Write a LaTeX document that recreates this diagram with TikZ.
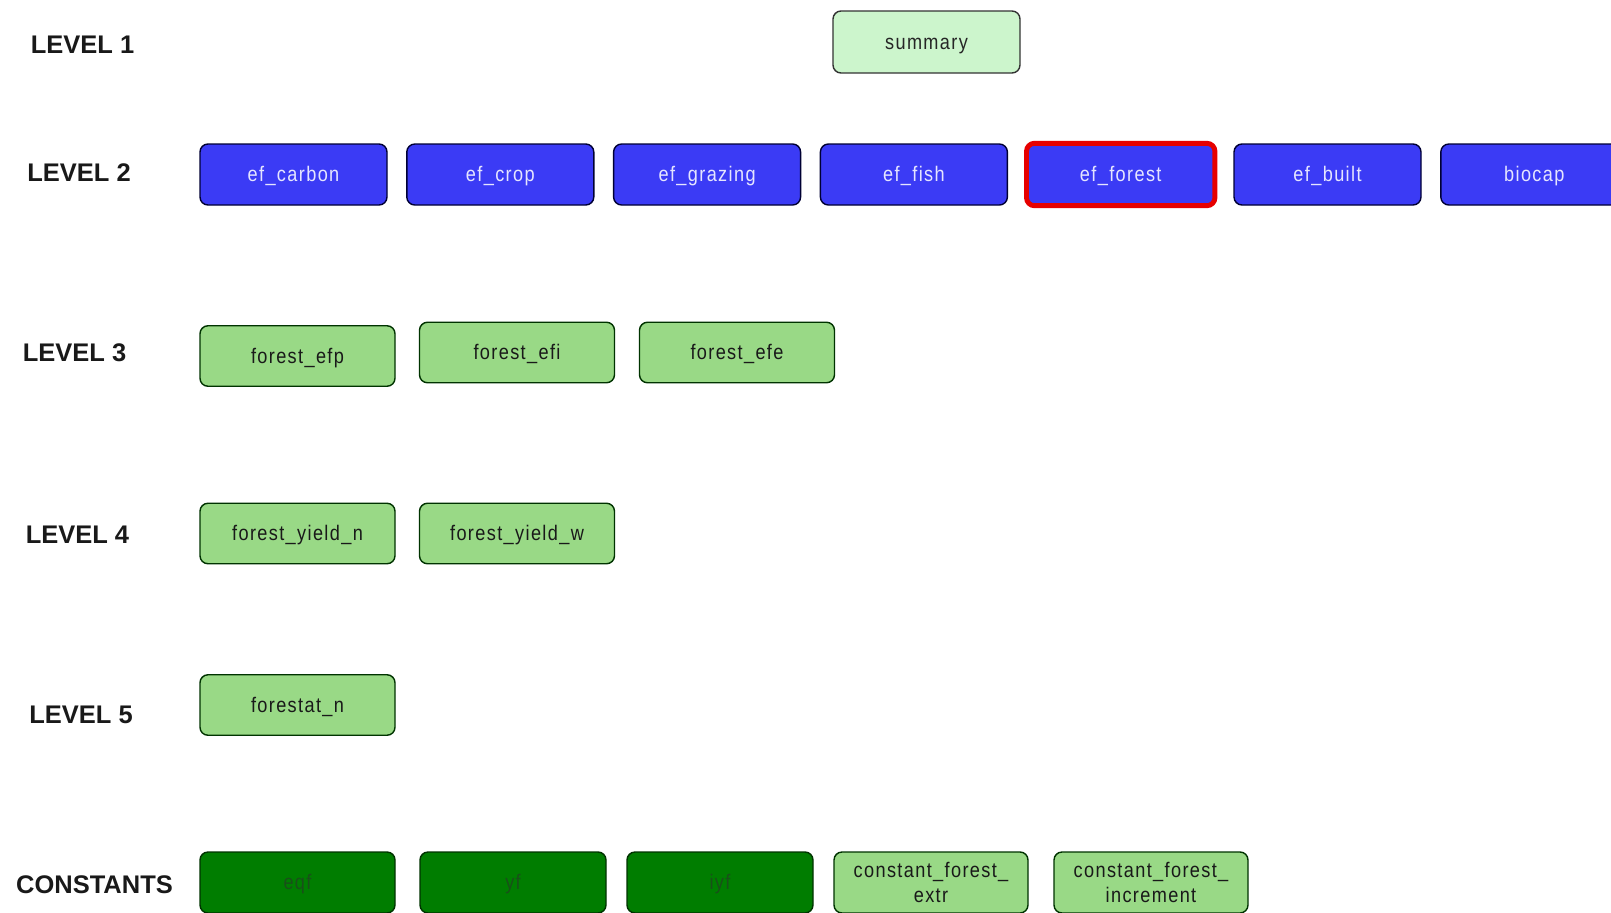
\documentclass[tikz,border=0pt]{standalone}
\usepackage{fontspec}
\setmainfont{Liberation Sans}
\newfontfamily\boxfont[FakeStretch=0.86, LetterSpace=6.5]{Liberation Sans}
\usepackage{xcolor}
\usepackage{tikz}
\usetikzlibrary{positioning}

\definecolor{levelblue}{RGB}{59,59,245}
\definecolor{levelgreen}{RGB}{153,217,134}
\definecolor{summarygreen}{RGB}{204,245,204}
\definecolor{constgreen}{RGB}{0,125,0}
\definecolor{consttext}{RGB}{25,80,25}
\definecolor{selectred}{RGB}{230,0,0}

\begin{document}
\begin{tikzpicture}[
  levellabel/.style={font=\fontsize{14.5}{18}\selectfont\bfseries, text=black!90, inner sep=0pt},
  module/.style={rectangle, rounded corners=0.16cm, draw=black!80, line width=0.8pt, align=center, font=\boxfont\fontsize{12}{14.6}\selectfont, inner sep=2pt, minimum height=1.22cm},
  oneline/.style={text height=10.5pt, text depth=2.3pt},
  toplevel/.style={module, oneline, fill=summarygreen, text=black!85, minimum width=3.74cm, minimum height=1.24cm},
  maincomp/.style={module, oneline, fill=levelblue, draw=blue!20!black, text=blue!10, minimum width=3.74cm},
  subcomp/.style={module, oneline, fill=levelgreen, draw=green!20!black, text=black!90, minimum width=3.9cm, minimum height=1.21cm},
  twoline/.style={module, fill=levelgreen, draw=green!20!black, text=black!90, minimum width=3.88cm},
  constant/.style={module, oneline, fill=constgreen, draw=green!20!black, text=consttext},
  selected/.style={draw=selectred, line width=2.8pt}
]

% ---------------------------------------------------
% Frame (clips biocap and the constants row)
% ---------------------------------------------------
\clip (0,0) rectangle (32.22,-18.24);

% ---------------------------------------------------
% Row grid
% ---------------------------------------------------
\def\yLevelOne{-0.84}
\def\yLevelTwo{-3.49}
\def\yLevelThree{-7.05}
\def\yLevelFour{-10.67}
\def\yLevelFive{-14.10}
\def\yConst{-17.65}

\def\xColOne{5.95}
\def\xColTwo{10.34}
\def\xColThree{14.74}

% ---------------------------------------------------
% Row labels
% ---------------------------------------------------
\node[levellabel] (lab1) at (1.65,-0.90) {LEVEL 1};
\node[levellabel] (lab2) at (1.58,-3.46) {LEVEL 2};
\node[levellabel] (lab3) at (1.49,-7.06) {LEVEL 3};
\node[levellabel] (lab4) at (1.55,-10.70) {LEVEL 4};
\node[levellabel] (lab5) at (1.62,-14.30) {LEVEL 5};
\node[levellabel] (labc) at (1.89,-17.70) {CONSTANTS};

% ---------------------------------------------------
% 1. Summary
% ---------------------------------------------------
\node[toplevel] (summary) at (18.53, \yLevelOne) {summary};

% ---------------------------------------------------
% 2. Footprint components
% ---------------------------------------------------
\foreach \name [count=\i from 0] in {ef_carbon, ef_crop, ef_grazing, ef_fish, ef_forest, ef_built, biocap}
  \node[maincomp] (l2n\i) at (5.87 + 4.136*\i, \yLevelTwo) {\detokenize\expandafter{\name}};
\draw[selected, rounded corners=0.16cm] (l2n4.south west) rectangle (l2n4.north east);

% ---------------------------------------------------
% 3. Forest sub-modules
% ---------------------------------------------------
\node[subcomp] (efp) at (\xColOne, -7.12) {forest\_efp};
\node[subcomp] (efi) at (\xColTwo, \yLevelThree) {forest\_efi};
\node[subcomp] (efe) at (\xColThree, \yLevelThree) {forest\_efe};

\node[subcomp] (yieldn) at (\xColOne, \yLevelFour) {forest\_yield\_n};
\node[subcomp] (yieldw) at (\xColTwo, \yLevelFour) {forest\_yield\_w};

\node[subcomp] (statn) at (\xColOne, \yLevelFive) {forestat\_n};

% ---------------------------------------------------
% 4. Constants
% ---------------------------------------------------
\node[constant, minimum width=3.9cm] (eqf) at (\xColOne, \yConst) {eqf};
\node[constant, minimum width=3.72cm] (yf) at (10.26, \yConst) {yf};
\node[constant, minimum width=3.72cm] (iyf) at (14.40, \yConst) {iyf};
\node[twoline] (cextr) at (18.62, \yConst) {constant\_forest\_\\extr};
\node[twoline] (cincr) at (23.02, \yConst) {constant\_forest\_\\increment};

\end{tikzpicture}
\end{document}
